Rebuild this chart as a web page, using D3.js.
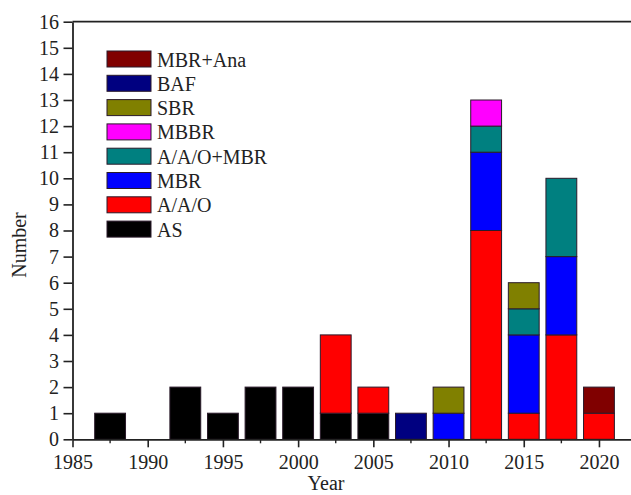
<!DOCTYPE html>
<html>
<head>
<meta charset="utf-8">
<script src="https://cdn.jsdelivr.net/npm/d3@7"></script>
<style>
  html, body { margin: 0; padding: 0; background: #fff; }
  svg { display: block; }
  text { font-family: "Liberation Serif", "Times New Roman", serif; fill: #222; }
</style>
</head>
<body>
<svg id="chart" width="631" height="495"></svg>
<script>
// Bin centres (years) and counts per process type
const years = [1987.5, 1990, 1992.5, 1995, 1997.5, 2000, 2002.5, 2005, 2007.5, 2010, 2012.5, 2015, 2017.5, 2020];
const AS         = [1, 0, 2, 1, 2, 2, 1, 1, 0, 0, 0, 0, 0, 0];
const AAO        = [0, 0, 0, 0, 0, 0, 3, 1, 0, 0, 8, 1, 4, 1];
const MBR        = [0, 0, 0, 0, 0, 0, 0, 0, 0, 1, 3, 3, 3, 0];
const AAO_MBR    = [0, 0, 0, 0, 0, 0, 0, 0, 0, 0, 1, 1, 3, 0];
const MBBR       = [0, 0, 0, 0, 0, 0, 0, 0, 0, 0, 1, 0, 0, 0];
const SBR        = [0, 0, 0, 0, 0, 0, 0, 0, 0, 1, 0, 1, 0, 0];
const BAF        = [0, 0, 0, 0, 0, 0, 0, 0, 1, 0, 0, 0, 0, 0];
const MBR_Ana    = [0, 0, 0, 0, 0, 0, 0, 0, 0, 0, 0, 0, 0, 1];

const seriesNames = ["AS", "A/A/O", "MBR", "A/A/O+MBR", "MBBR", "SBR", "BAF", "MBR+Ana"];
const seriesValues = [AS, AAO, MBR, AAO_MBR, MBBR, SBR, BAF, MBR_Ana];
const seriesColors = ["#000000", "#ff0000", "#0000ff", "#008080", "#ff00ff", "#808000", "#000080", "#800000"];

const xTicks = [1985, 1990, 1995, 2000, 2005, 2010, 2015, 2020];
const yTicks = d3.range(0, 17);
const barWidthYears = 2.05;
const fontSize = 20;

const svg = d3.select("#chart");
const plotLeft = 72.5, plotRight = 631, plotTop = 21.7, plotBottom = 439.3;

const x = d3.scaleLinear().domain([1985, 2022.13]).range([plotLeft, plotRight]);
const y = d3.scaleLinear().domain([0, 16]).range([plotBottom, plotTop]);

// Build rows for stacking
const rows = years.map((yr, i) => {
  const r = { year: yr };
  seriesNames.forEach((n, k) => { r[n] = seriesValues[k][i]; });
  return r;
});
const stacked = d3.stack().keys(seriesNames)(rows);

// Bars
const layers = svg.append("g").selectAll("g")
  .data(stacked).join("g")
  .attr("fill", (d, i) => seriesColors[i]);

layers.selectAll("rect")
  .data(d => d.filter(s => s[1] - s[0] > 0))
  .join("rect")
  .attr("x", d => x(d.data.year - barWidthYears / 2))
  .attr("width", d => x(d.data.year + barWidthYears / 2) - x(d.data.year - barWidthYears / 2))
  .attr("y", d => y(d[1]))
  .attr("height", d => y(d[0]) - y(d[1]))
  .attr("stroke", "#2a1a2a")
  .attr("stroke-width", 1);

// Axes
const axisColor = "#222";
const xAxis = d3.axisBottom(x).tickValues(xTicks).tickFormat(d3.format("d")).tickSize(8).tickSizeOuter(0);
const gx = svg.append("g").attr("transform", `translate(0,${plotBottom})`).call(xAxis);
gx.select(".domain").attr("stroke", axisColor).attr("stroke-width", 1.8);
gx.selectAll(".tick line").attr("stroke", axisColor).attr("stroke-width", 1.6);
gx.selectAll(".tick text").attr("font-size", fontSize).attr("dy", 0).attr("y", 29.5)
  .attr("font-family", "Liberation Serif").attr("fill", "#222");

// Minor x ticks
const minor = d3.range(1987.5, 2022, 5);
svg.append("g").selectAll("line").data(minor).join("line")
  .attr("x1", d => x(d)).attr("x2", d => x(d))
  .attr("y1", plotBottom).attr("y2", plotBottom + 4)
  .attr("stroke", axisColor).attr("stroke-width", 1.4);

const yAxis = d3.axisLeft(y).tickValues(yTicks).tickFormat(d3.format("d")).tickSize(9).tickSizeOuter(0);
const gy = svg.append("g").attr("transform", `translate(${plotLeft},0)`).call(yAxis);
gy.select(".domain").attr("stroke", axisColor).attr("stroke-width", 1.8);
gy.selectAll(".tick line").attr("stroke", axisColor).attr("stroke-width", 1.6);
gy.selectAll(".tick text").attr("font-size", fontSize).attr("x", -13.5)
  .attr("font-family", "Liberation Serif").attr("fill", "#222");

// Top frame line
svg.append("line")
  .attr("x1", plotLeft).attr("x2", plotRight).attr("y1", plotTop).attr("y2", plotTop)
  .attr("stroke", axisColor).attr("stroke-width", 1.8);

// Axis titles
svg.append("text")
  .attr("x", 326).attr("y", 490)
  .attr("text-anchor", "middle").attr("font-size", fontSize)
  .text("Year");
svg.append("text")
  .attr("transform", "translate(26,245) rotate(-90)")
  .attr("text-anchor", "middle").attr("font-size", fontSize)
  .text("Number");

// Legend (top series first)
const legendOrder = seriesNames.map((n, i) => i).reverse();
const lg = svg.append("g");
legendOrder.forEach((k, j) => {
  const ty = 51 + j * 24.3;
  lg.append("rect")
    .attr("x", 107).attr("y", ty).attr("width", 44).attr("height", 16)
    .attr("fill", seriesColors[k]).attr("stroke", "#2a1a2a").attr("stroke-width", 1);
  lg.append("text")
    .attr("x", 157).attr("y", ty + 15.5)
    .attr("font-size", fontSize)
    .text(seriesNames[k]);
});
</script>
</body>
</html>
